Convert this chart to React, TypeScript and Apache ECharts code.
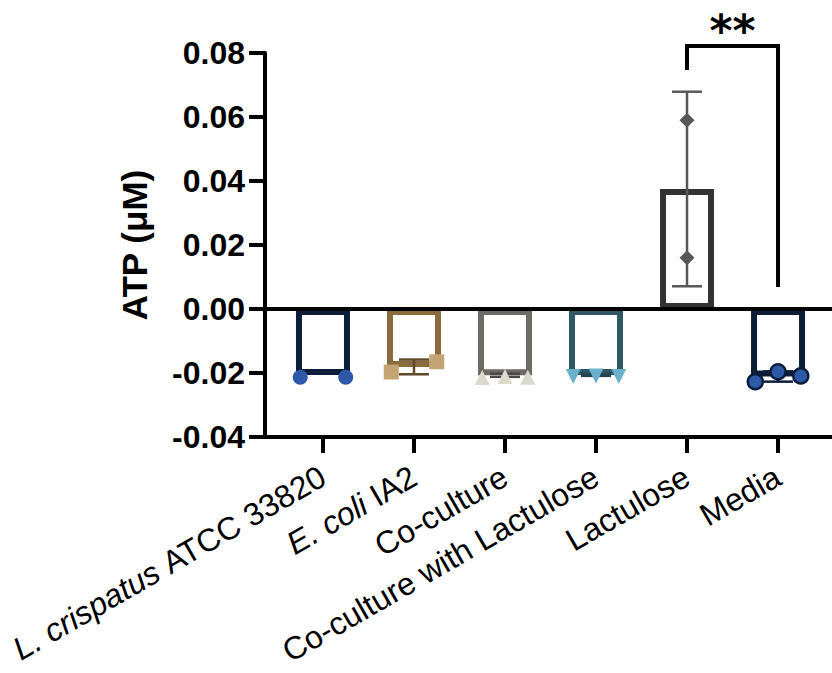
import React, { useEffect, useRef } from "react";
import * as echarts from "echarts";

// ---- data ----
const categories = [
  "L. crispatus ATCC 33820",
  "E. coli IA2",
  "Co-culture",
  "Co-culture with Lactulose",
  "Lactulose",
  "Media",
];
const italicPart = ["L. crispatus", "E. coli", "", "", "", ""];
const uprightPart = ["ATCC 33820", "IA2", "Co-culture", "Co-culture with Lactulose", "Lactulose", "Media"];
const means = [-0.0206, -0.0181, -0.0207, -0.0206, 0.0375, -0.0211];
const sds = [0, 0.0023, 0.0005, 0.0003, 0.0304, 0.0016];
const points: number[][] = [
  [-0.0213, -0.0213],
  [-0.0197, -0.0165],
  [-0.0214, -0.0211, -0.0213],
  [-0.0211, -0.0209, -0.0211],
  [0.059, 0.016],
  [-0.0227, -0.0196, -0.0209],
];
const barColors = ["#0c1d3a", "#8a6c3c", "#6e6b67", "#2f5964", "#333333", "#0c1d3a"];
const pointColors = ["#2e59a9", "#c3a473", "#dcd9cd", "#69b0cd", "#58585a", "#2e59a9"];
const errColors = ["#0c1d3a", "#5e4a2a", "#4a4845", "#234550", "#58585a", "#0c1d3a"];
const pointSymbols = ["circle", "rect", "triangle", "triangle", "diamond", "circle"];
const pointRotate = [0, 0, 0, 180, 0, 0];
const yMin = -0.04;
const yMax = 0.08;
const yStep = 0.02;
// significance bracket: [fromIndex, toIndex, topY, leftEndY, rightEndY]
const sigBracket = [4, 5, 0.0822, 0.0747, 0.0069];
const sigLabel = "**";

const FONT = "'Liberation Sans', Arial, Helvetica, sans-serif";

function spreadOffsets(vals: number[]): number[] {
  const range = Math.max(...vals) - Math.min(...vals);
  if (range > 0.005) return vals.map(() => 0);
  const n = vals.length;
  if (n === 1) return [0];
  return vals.map((_, k) => -0.25 + (0.5 * k) / (n - 1));
}

export default function App() {
  const ref = useRef<HTMLDivElement>(null);
  useEffect(() => {
    if (!ref.current) return;
    const chart = echarts.init(ref.current, undefined, { renderer: "svg" });

    const barData = means.map((m, i) => ({
      value: [i, m],
      itemStyle: { color: "rgba(255,255,255,0)", borderColor: barColors[i], borderWidth: 6 },
    }));

    const errData = means.map((m, i) => [i, m - sds[i], m + sds[i]]);

    const scatterSeries = points.map((vals, i) => {
      const offs = spreadOffsets(vals);
      return {
        type: "scatter",
        z: 5,
        symbol: pointSymbols[i],
        symbolSize: 15,
        symbolRotate: pointRotate[i],
        itemStyle: {
          color: pointColors[i],
          borderColor: i === 5 ? "#0c1d3a" : pointColors[i],
          borderWidth: i === 5 ? 2.5 : 0,
          opacity: 1,
        },
        data: vals.map((v, k) => [i + offs[k], v]),
      };
    });

    const option: any = {
      animation: false,
      grid: { left: 265, right: 0, top: 53, bottom: 236, containLabel: false, outerBoundsMode: "none" },
      xAxis: {
        type: "value",
        min: -0.637,
        max: 5.593,
        axisLine: { show: true, onZero: false, lineStyle: { color: "#000", width: 4 } },
        axisTick: { show: true, customValues: [0, 1, 2, 3, 4, 5], length: 16, lineStyle: { color: "#000", width: 4 } },
        splitLine: { show: false },
        axisLabel: {
          customValues: [0, 1, 2, 3, 4, 5],
          rotate: 30,
          margin: 37,
          color: "#000",
          fontSize: 32,
          fontFamily: FONT,
          formatter: (v: number) => {
            const i = Math.round(v);
            if (italicPart[i]) return `{i|${italicPart[i]}} {n|${uprightPart[i]}}`;
            return `{n|${uprightPart[i]}}`;
          },
          rich: {
            i: { fontStyle: "italic", fontSize: 32, fontFamily: FONT, color: "#000" },
            n: { fontSize: 32, fontFamily: FONT, color: "#000" },
          },
        },
      },
      yAxis: {
        type: "value",
        min: yMin,
        max: yMax,
        interval: yStep,
        name: "ATP (μM)",
        nameLocation: "middle",
        nameGap: 113,
        nameTextStyle: { fontSize: 35, fontWeight: "bold", fontFamily: FONT, color: "#000" },
        axisLine: { show: true, onZero: false, lineStyle: { color: "#000", width: 4 } },
        axisTick: { show: true, length: 16, lineStyle: { color: "#000", width: 4 } },
        splitLine: { show: false },
        axisLabel: {
          margin: 20,
          fontSize: 32,
          fontWeight: "bold",
          fontFamily: FONT,
          color: "#000",
          formatter: (v: number) => v.toFixed(2),
        },
      },
      series: [
        {
          type: "bar",
          z: 2,
          barWidth: 54,
          data: barData,
          markLine: {
            silent: true,
            symbol: "none",
            label: { show: false },
            lineStyle: { color: "#000", width: 4, type: "solid" },
            data: [{ yAxis: 0 }],
          },
        },
        {
          type: "custom",
          z: 4,
          encode: { x: 0, y: [1, 2] },
          renderItem: (params: any, api: any) => {
            const i = params.dataIndex;
            if (sds[i] <= 0) return null;
            const x = api.value(0);
            const lo = api.coord([x, api.value(1)]);
            const hi = api.coord([x, api.value(2)]);
            const half = 15;
            const style = { stroke: errColors[i], lineWidth: 2.5 };
            return {
              type: "group",
              children: [
                { type: "line", shape: { x1: lo[0], y1: lo[1], x2: hi[0], y2: hi[1] }, style },
                { type: "line", shape: { x1: lo[0] - half, y1: lo[1], x2: lo[0] + half, y2: lo[1] }, style },
                { type: "line", shape: { x1: hi[0] - half, y1: hi[1], x2: hi[0] + half, y2: hi[1] }, style },
              ],
            };
          },
          data: errData,
        },
        ...scatterSeries,
        {
          type: "custom",
          z: 6,
          clip: false,
          encode: { x: [0, 1], y: [2, 3, 4] },
          renderItem: (params: any, api: any) => {
            const x1 = api.value(0);
            const x2 = api.value(1);
            const top = api.value(2);
            const p1 = api.coord([x1, api.value(3)]);
            const p2 = api.coord([x1, top]);
            const p3 = api.coord([x2, top]);
            const p4 = api.coord([x2, api.value(4)]);
            return {
              type: "group",
              children: [
                {
                  type: "polyline",
                  shape: { points: [p1, p2, p3, p4] },
                  style: { stroke: "#000", lineWidth: 4, fill: null },
                },
                {
                  type: "text",
                  x: (p2[0] + p3[0]) / 2,
                  y: p2[1] - 15,
                  style: {
                    text: sigLabel,
                    fontSize: 44,
                    fontWeight: "bold",
                    fontFamily: "'DejaVu Sans', sans-serif",
                    fill: "#000",
                    align: "center",
                    verticalAlign: "middle",
                  },
                },
              ],
            };
          },
          data: [sigBracket],
        },
      ],
    };
    chart.setOption(option);
    return () => chart.dispose();
  }, []);
  return (
    <div
      ref={ref}
      style={{ position: "fixed", left: 0, top: 0, width: 832, height: 673, background: "#fff" }}
    />
  );
}
